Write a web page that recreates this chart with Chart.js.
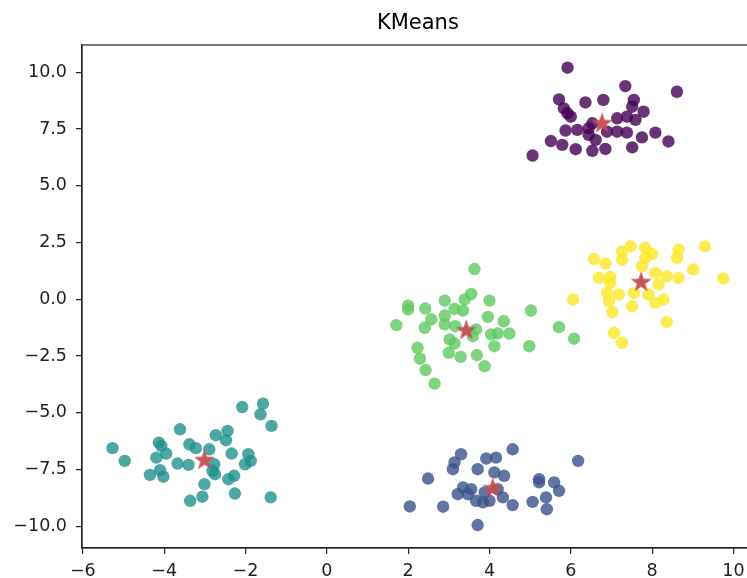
<!DOCTYPE html>
<html>
<head>
<meta charset="utf-8">
<script src="https://cdn.jsdelivr.net/npm/chart.js@4/dist/chart.umd.min.js"></script>
<style>
    html, body { margin: 0; padding: 0; background: #fff; overflow: hidden; }
    canvas { display: block; }
</style>
</head>
<body>
<canvas id="kmeans" width="760" height="578"></canvas>
<script>
// cluster points
const purpleX = [5.92, 7.34, 8.61, 5.71, 6.36, 6.80, 7.55, 5.83, 5.92, 6.00, 7.51, 7.79, 7.14, 7.38, 7.59, 5.87, 6.16, 6.44, 6.53, 6.89, 7.14, 7.38, 7.75, 8.08, 8.40, 5.51, 5.79, 6.12, 6.53, 6.61, 6.85, 7.51, 5.06, 6.44];
const purpleY = [10.2, 9.39, 9.14, 8.80, 8.67, 8.78, 8.78, 8.41, 8.19, 8.04, 8.48, 8.26, 7.97, 8.04, 7.90, 7.43, 7.46, 7.53, 7.75, 7.38, 7.38, 7.34, 7.13, 7.34, 6.95, 6.97, 6.80, 6.61, 6.54, 7.02, 6.62, 6.69, 6.33, 7.24];

const blueX = [4.57, 3.30, 3.92, 4.16, 3.14, 3.10, 3.71, 6.18, 2.49, 4.12, 4.36, 5.22, 5.22, 5.59, 5.71, 3.35, 3.55, 3.22, 3.88, 3.84, 3.67, 4.00, 4.33, 4.57, 5.06, 5.39, 5.41, 2.04, 2.86, 3.71, 3.47, 4.20];
const blueY = [-6.61, -6.83, -7.02, -6.98, -7.19, -7.49, -7.49, -7.12, -7.90, -7.63, -7.78, -7.93, -8.07, -8.07, -8.44, -8.29, -8.37, -8.59, -8.51, -8.95, -8.88, -8.88, -8.73, -9.07, -8.93, -8.73, -9.25, -9.13, -9.14, -9.95, -8.59, -8.37];

const tealX = [-2.08, -1.57, -1.63, -1.36, -3.61, -2.73, -2.44, -2.48, -4.13, -4.07, -3.38, -3.22, -2.89, -2.34, -3.95, -5.27, -4.97, -4.19, -3.67, -3.40, -2.77, -2.81, -2.75, -1.93, -1.87, -2.01, -4.35, -4.10, -4.02, -2.42, -2.28, -3.01, -3.06, -3.36, -2.26, -1.38];
const tealY = [-4.75, -4.60, -5.07, -5.58, -5.73, -5.99, -5.80, -6.21, -6.32, -6.46, -6.39, -6.56, -6.61, -6.80, -6.80, -6.56, -7.12, -6.98, -7.24, -7.30, -7.27, -7.56, -7.71, -6.83, -7.12, -7.27, -7.74, -7.53, -7.82, -7.93, -7.78, -8.15, -8.70, -8.88, -8.56, -8.73];

const greenX = [3.63, 3.55, 3.39, 2.90, 4.00, 2.00, 2.00, 2.42, 3.14, 3.35, 5.02, 2.57, 2.90, 3.96, 4.35, 1.71, 2.41, 2.90, 3.16, 3.67, 3.59, 4.04, 4.20, 4.49, 5.71, 6.08, 3.02, 3.14, 4.12, 4.98, 2.23, 2.29, 3.00, 3.29, 3.69, 3.88, 2.43, 2.65];
const greenY = [1.33, 0.23, -0.01, -0.06, -0.06, -0.28, -0.45, -0.41, -0.43, -0.50, -0.50, -0.89, -0.72, -0.78, -0.97, -1.14, -1.26, -1.11, -1.19, -1.33, -1.63, -1.55, -1.51, -1.51, -1.23, -1.74, -1.77, -1.95, -2.07, -2.07, -2.14, -2.62, -2.36, -2.54, -2.46, -2.95, -3.12, -3.72];

const yellowX = [9.30, 8.65, 8.61, 7.47, 7.26, 7.26, 7.83, 8.00, 7.83, 7.75, 6.57, 6.85, 9.01, 9.75, 6.69, 6.97, 6.97, 8.08, 8.36, 8.65, 8.16, 6.89, 7.18, 7.55, 7.91, 8.28, 8.08, 6.94, 7.51, 6.06, 7.02, 8.36, 7.06, 7.26];
const yellowY = [2.33, 2.18, 1.82, 2.33, 2.11, 1.74, 2.26, 1.99, 1.82, 1.45, 1.77, 1.57, 1.31, 0.91, 0.94, 0.98, 0.72, 1.16, 1.01, 0.94, 0.65, 0.28, 0.21, 0.28, 0.21, -0.01, -0.16, -0.09, -0.31, -0.01, -0.57, -1.00, -1.48, -1.92];

// cluster centres (stars)
const centerX = [6.77, 4.08, -3.01, 3.43, 7.73];
const centerY = [7.79, -8.29, -7.05, -1.33, 0.79];

const xTicks = [-6, -4, -2, 0, 2, 4, 6, 8, 10];
const yTicks = [-10, -7.5, -5, -2.5, 0, 2.5, 5, 7.5, 10];

const chartTitle = 'KMeans';

const clusterColors = [
    'rgba(68, 1, 84, 0.8)',
    'rgba(59, 82, 139, 0.8)',
    'rgba(33, 145, 140, 0.8)',
    'rgba(94, 201, 98, 0.8)',
    'rgba(253, 231, 37, 0.8)'
];

function toPoints(xs, ys) {
    return xs.map((x, i) => ({ x: x, y: ys[i] }));
}

function minus(s) {
    return String(s).replace('-', '\u2212');
}

// filled star marker like matplotlib's '*'
function makeStar(r, color) {
    let c = document.createElement('canvas');
    c.width = c.height = Math.ceil(r * 2 + 2);
    let ctx = c.getContext('2d');
    let cx = c.width / 2, cy = c.height / 2 + r * 0.1;
    ctx.beginPath();
    for (let i = 0; i < 10; i++) {
        let rad = i % 2 === 0 ? r : r * 0.4;
        let a = -Math.PI / 2 + i * Math.PI / 5;
        ctx.lineTo(cx + rad * Math.cos(a), cy + rad * Math.sin(a));
    }
    ctx.closePath();
    ctx.fillStyle = color;
    ctx.fill();
    return c;
}

// axes box + title centred over the axes (matplotlib style)
const frame = {
    id: 'frame',
    afterDraw(chart) {
        let a = chart.chartArea;
        let ctx = chart.ctx;
        ctx.save();
        ctx.strokeStyle = '#222';
        ctx.lineWidth = 1.2;
        ctx.strokeRect(a.left, a.top, a.right - a.left, a.bottom - a.top);
        ctx.fillStyle = '#000';
        ctx.font = '21px "DejaVu Sans"';
        ctx.textAlign = 'center';
        ctx.textBaseline = 'middle';
        ctx.fillText(chartTitle, (a.left + a.right) / 2, 24);
        ctx.restore();
    }
};

const clusters = [
    [purpleX, purpleY],
    [blueX, blueY],
    [tealX, tealY],
    [greenX, greenY],
    [yellowX, yellowY]
];

let datasets = clusters.map((c, i) => ({
    label: 'cluster ' + i,
    data: toPoints(c[0], c[1]),
    backgroundColor: clusterColors[i],
    borderWidth: 0,
    pointRadius: 6.2,
    pointHoverRadius: 6.2,
    order: 1
}));

datasets.push({
    label: 'centres',
    data: toPoints(centerX, centerY),
    pointStyle: makeStar(11, 'rgba(196, 78, 82, 0.95)'),
    order: 0
});

new Chart(document.querySelector('#kmeans'), {
    type: 'scatter',
    data: { datasets: datasets },
    plugins: [frame],
    options: {
        responsive: false,
        animation: false,
        events: [],
        layout: { padding: { left: 0, right: 4, top: 45, bottom: 0 } },
        plugins: {
            legend: { display: false },
            tooltip: { enabled: false },
            title: { display: false }
        },
        scales: {
            x: {
                type: 'linear',
                min: -6.02,
                max: 10.5,
                afterBuildTicks: (scale) => { scale.ticks = xTicks.map(v => ({ value: v })); },
                afterFit: (scale) => { scale.height = 30; },
                grid: { drawOnChartArea: false, drawTicks: true, tickLength: 6, color: '#222', lineWidth: 1.2 },
                border: { display: true, color: '#222', width: 1.2 },
                ticks: {
                    color: '#222',
                    padding: 7,
                    maxRotation: 0,
                    font: { family: 'DejaVu Sans', size: 17.5 },
                    callback: (v) => minus(v)
                }
            },
            y: {
                type: 'linear',
                min: -10.96,
                max: 11.2,
                afterBuildTicks: (scale) => { scale.ticks = yTicks.map(v => ({ value: v })); },
                afterFit: (scale) => { scale.width = 82; },
                grid: { drawOnChartArea: false, drawTicks: true, tickLength: 6, color: '#222', lineWidth: 1.2 },
                border: { display: true, color: '#222', width: 1.2 },
                ticks: {
                    color: '#222',
                    padding: 9,
                    font: { family: 'DejaVu Sans', size: 17.5 },
                    callback: (v) => minus(Number(v).toFixed(1))
                }
            }
        }
    }
});
</script>
</body>
</html>
